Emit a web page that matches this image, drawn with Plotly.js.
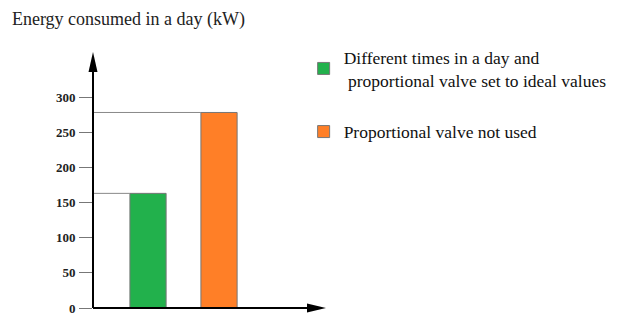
<!DOCTYPE html>
<html><head><meta charset="utf-8">
<script src="https://cdn.plot.ly/plotly-3.0.1.min.js"></script>
<style>body{margin:0;background:#fff}#c{width:628px;height:318px}</style>
</head><body><div id="c"></div>
<script>
const names = ["Different times in a day and<br> proportional valve set to ideal values", "Proportional valve not used"];
const positions = [1, 2];
const values = [163, 278];
const colors = ["#22B14C", "#FF7F27"];
const yTicks = [0, 50, 100, 150, 200, 250, 300];

const barWidth = 0.51;
const xRange = [0.225, 3.507];
const traces = names.map((n, i) => ({
  type: "bar", name: n, x: [positions[i]], y: [values[i]], width: barWidth,
  marker: {color: colors[i], line: {color: "#777", width: 1}},
  legendgroup: "g" + i, hoverinfo: "skip"
}));

const shapes = values.map((v, i) => ({
  type: "line", xref: "x", yref: "y",
  x0: xRange[0] - 0.06, x1: positions[i] - barWidth / 2, y0: v, y1: v,
  line: {color: "#888", width: 1}
}));
// axis lines with arrowheads
shapes.push(
  {type: "line", xref: "paper", yref: "paper", x0: 0, x1: 0, y0: 0, y1: 0.97, line: {color: "#000", width: 2}},
  {type: "line", xref: "paper", yref: "paper", x0: 0, x1: 0.97, y0: 0, y1: 0, line: {color: "#000", width: 2}},
  {type: "path", xref: "paper", yref: "paper", xsizemode: "pixel", ysizemode: "pixel", xanchor: 0, yanchor: 1,
   path: "M-4.5,-20 L0,0 L4.5,-20 Z", fillcolor: "#000", line: {width: 0}},
  {type: "path", xref: "paper", yref: "paper", xsizemode: "pixel", ysizemode: "pixel", xanchor: 1, yanchor: 0,
   path: "M-19,-4.5 L0,0 L-19,4.5 Z", fillcolor: "#000", line: {width: 0}}
);

const layout = {
  width: 628, height: 318,
  margin: {l: 93, r: 302, t: 52, b: 10},
  paper_bgcolor: "#fff", plot_bgcolor: "#fff",
  font: {family: "Liberation Serif, Times New Roman, serif", color: "#111"},
  title: {text: "Energy consumed in a day (kW)", x: 0.019, xanchor: "left", xref: "container",
          y: 0.94, yanchor: "middle", font: {size: 18, color: "#222"}},
  xaxis: {range: xRange, showticklabels: false, ticks: "", showgrid: false, zeroline: false, showline: false, fixedrange: true},
  yaxis: {range: [0, 364], tickvals: yTicks, ticktext: yTicks.map(String), ticks: "outside", ticklen: 13,
          tickcolor: "#777", tickwidth: 1, showgrid: false, zeroline: false, showline: false,
          tickfont: {size: 13, weight: "bold", color: "#222"}, ticklabelstandoff: 1},
  showlegend: true,
  legend: {x: 0.904, xanchor: "left", y: 1.05, yanchor: "top", traceorder: "grouped", tracegroupgap: 26,
           font: {size: 17.5, color: "#111"}, bgcolor: "rgba(0,0,0,0)", itemwidth: 30},
  bargap: 0,
  shapes: shapes
};
Plotly.newPlot("c", traces, layout, {staticPlot: true, displayModeBar: false});
</script></body></html>
